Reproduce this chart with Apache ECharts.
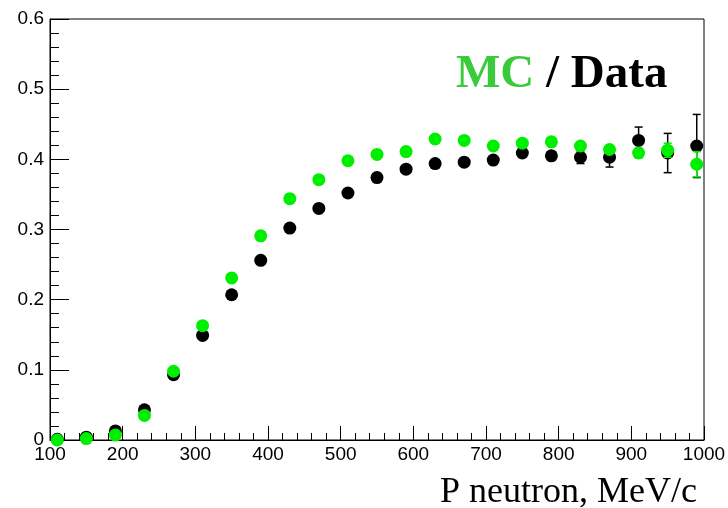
<!DOCTYPE html>
<html>
<head>
<meta charset="utf-8">
<script src="https://cdn.jsdelivr.net/npm/echarts@6/dist/echarts.min.js"></script>
<style>html,body{margin:0;padding:0;background:#fff}#c{width:728px;height:508px}</style>
</head>
<body>
<div id="c"></div>
<script>
// Bin centres of P neutron, MeV/c
const pBins = [110,150,190,230,270,310,350,390,430,470,510,550,590,630,670,710,750,790,830,870,910,950,990];
// Data (black)
const dataVals = [0.001,0.004,0.013,0.043,0.093,0.149,0.207,0.256,0.302,0.330,0.352,0.374,0.386,0.394,0.396,0.399,0.409,0.405,0.403,0.403,0.427,0.409,0.419];
const dataErr  = [0.002,0.002,0.003,0.003,0.003,0.003,0.003,0.003,0.003,0.003,0.003,0.003,0.003,0.003,0.004,0.004,0.005,0.006,0.009,0.014,0.019,0.028,0.045];
// MC (green)
const mcVals = [0.000,0.002,0.007,0.035,0.098,0.163,0.231,0.291,0.344,0.371,0.398,0.407,0.411,0.429,0.427,0.419,0.423,0.425,0.419,0.414,0.409,0.413,0.393];
const mcErr  = [0.001,0.001,0.002,0.002,0.002,0.002,0.002,0.002,0.002,0.002,0.002,0.002,0.002,0.002,0.002,0.003,0.003,0.003,0.004,0.004,0.007,0.010,0.018];

const xTicks = {min:100, max:1000, interval:100};
const yTicks = {min:0, max:0.6, interval:0.1};

function pts(vals, errs){ return pBins.map((x,i)=>[x, vals[i], errs ? errs[i] : 0]); }

function errRender(color){
  return function(params, api){
    const x = api.value(0), y = api.value(1), e = api.value(2);
    const t = api.coord([x, y + e]), b = api.coord([x, y - e]);
    const hw = 4;
    const st = {stroke: color, lineWidth: 1.5};
    return {type:'group', children:[
      {type:'line', shape:{x1:t[0], y1:t[1], x2:b[0], y2:b[1]}, style:st},
      {type:'line', shape:{x1:t[0]-hw, y1:t[1], x2:t[0]+hw, y2:t[1]}, style:st},
      {type:'line', shape:{x1:b[0]-hw, y1:b[1], x2:b[0]+hw, y2:b[1]}, style:st}
    ]};
  };
}

const chart = echarts.init(document.getElementById('c'), null, {renderer:'canvas'});
const labelFont = {fontFamily:'Liberation Sans, Arial, sans-serif', fontSize:19, color:'#000'};
chart.setOption({
  animation:false,
  backgroundColor:'#fff',
  title:{
    left:456, top:51, padding:0,
    text:'{a|MC}{b| / Data}',
    textStyle:{
      rich:{
        a:{fontFamily:'Liberation Serif, Times New Roman, serif', fontWeight:'bold', fontSize:47, color:'#3acb3a'},
        b:{fontFamily:'Liberation Serif, Times New Roman, serif', fontWeight:'bold', fontSize:47, color:'#000'}
      }
    }
  },
  grid:{left:50, right:24, top:19, bottom:68, outerBoundsMode:'none', containLabel:false, show:true, borderColor:'#000', borderWidth:1, backgroundColor:'transparent'},
  xAxis:{
    type:'value', min:xTicks.min, max:xTicks.max, interval:xTicks.interval,
    name:'P neutron, MeV/c', nameLocation:'end', nameGap:-7,
    nameTextStyle:{fontFamily:'Liberation Serif, Times New Roman, serif', fontSize:36, color:'#000', align:'right', verticalAlign:'top', padding:[35,0,0,0]},
    axisLine:{lineStyle:{color:'#000', width:1}},
    axisTick:{inside:true, length:14, lineStyle:{color:'#000'}},
    minorTick:{show:true, splitNumber:5, length:7, lineStyle:{color:'#000'}},
    axisLabel:Object.assign({margin:5, showMinLabel:true, showMaxLabel:true, formatter:v=>String(v)}, labelFont),
    splitLine:{show:false}
  },
  yAxis:{
    type:'value', min:yTicks.min, max:yTicks.max, interval:yTicks.interval,
    axisLine:{show:true, lineStyle:{color:'#000', width:1}},
    axisTick:{show:true, inside:true, length:19, lineStyle:{color:'#000'}},
    minorTick:{show:true, splitNumber:5, length:9, lineStyle:{color:'#000'}},
    axisLabel:Object.assign({margin:6, formatter:v=>String(Math.round(v*10)/10)}, labelFont),
    splitLine:{show:false}
  },
  series:[
    {type:'custom', name:'Data err', data:pts(dataVals, dataErr), renderItem:errRender('#000'), z:2, encode:{x:0,y:1}},
    {type:'scatter', name:'Data', data:pts(dataVals, dataErr), symbol:'circle', symbolSize:13, itemStyle:{color:'#000', opacity:1}, z:3},
    {type:'custom', name:'MC err', data:pts(mcVals, mcErr), renderItem:errRender('#00ee00'), z:4, encode:{x:0,y:1}},
    {type:'scatter', name:'MC', data:pts(mcVals, mcErr), symbol:'circle', symbolSize:13, itemStyle:{color:'#00ee00', opacity:1}, z:5}
  ]
});
</script>
</body>
</html>
